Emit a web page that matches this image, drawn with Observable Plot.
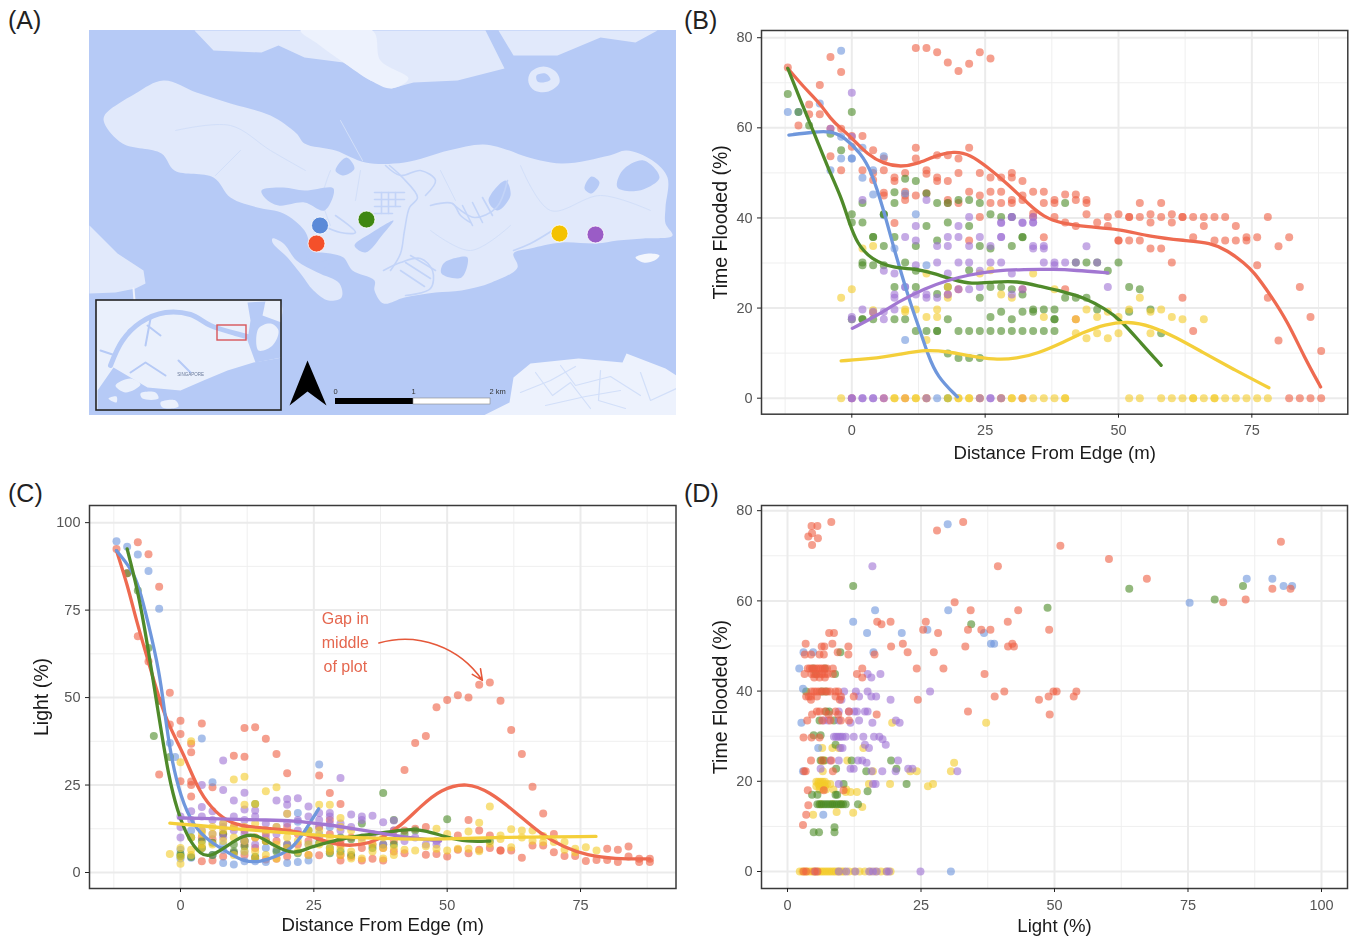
<!DOCTYPE html>
<html><head><meta charset="utf-8">
<script src="https://cdn.jsdelivr.net/npm/d3@7"></script>
<script src="https://cdn.jsdelivr.net/npm/@observablehq/plot@0.6"></script>
<style>
html,body{margin:0;padding:0;background:#fff}
#page{position:relative;width:1354px;height:936px;overflow:hidden;font-family:"Liberation Sans",Arial,sans-serif}
#page>svg,#page>figure{position:absolute;margin:0;filter:blur(0.35px)}
#page>svg.map{filter:blur(0.7px)}
.tag{position:absolute;font-size:25px;color:#222;line-height:24px}
</style></head><body><div id="page"></div>
<script>
// ---------- palette ----------
const RED="#ee5f42",BLUE="#6c94dc",GREEN="#4b8a26",YELLOW="#f3cb2a",PURPLE="#9f72d4";
const LRED="#ee6a50",LBLUE="#6f97dc",LGREEN="#4f8a2a",LYELLOW="#f4cf3a",LPURPLE="#a277d2";

// ---------- panel B: distance from edge vs time flooded ----------
const bRed=[[-12,73.4],[-4,75.7],[-2,72.4],[-6,69.5],[-8,65.2],[-8,63],[-6,63],[-10,60.5],[-4,59.8],[-2,59.8],[0,58.2],[2,58.2],[0,55.8],[4,55],[-4,53.7],[6,53.2],[-2,50.6],[2,50.6],[6,50.6],[4,50],[4,48.4],[8,49],[8,48.2],[10,50],[10,45.8],[10,45],[6,45.6],[6,45],[10,44],[12,45],[12,55.6],[12,53.2],[14,50.6],[14,49.8],[14,45.5],[16,53.9],[16,49],[16,48.2],[18,53.9],[18,48.2],[18,44],[18,43.3],[20,53.2],[20,50],[20,43.3],[22,55.6],[22,45.8],[24,50],[24,45],[24,40.2],[26,49],[26,45.8],[26,43.3],[28,49],[28,45.8],[28,43.3],[30,50],[30,49],[30,44],[30,43.3],[32,48.2],[32,45],[32,44],[34,45.8],[34,41],[34,40.2],[36,43.3],[8,38.9],[22,35],
[12,77.7],[14,77.7],[16,76.8],[18,74.5],[20,72.6],[22,74.2],[24,76.8],[26,75.4],
[36,45.8],[38,44],[38,43.3],[40,45.2],[42,45.2],[42,44],[44,44],[44,43.3],[38,40.2],[44,40.8],[40,39],[42,38.2],[46,39],[48,40.2],[48,38.2],[50,40.8],[52,40.2],[52,40.2],[54,43.3],[58,43.3],[54,40.2],[56,40.8],[56,39],[58,40.2],[60,40.8],[60,39],[62,40.2],[62,40.2],[64,40.2],[66,40.2],[66,38.2],[68,40.2],[70,40.2],[72,38.2],[78,40.2],[50,35],[50,35],[52,35],[54,35],[56,33.2],[58,33.2],[64,35.7],[68,35],[70,35],[72,35],[74,35.7],[74,35],[76,35.7],[80,33.7],[82,35.7],[36,35.7],
[60,30.1],[62,22.3],[64,14.9],[76,29.5],[78,22.3],[80,12.8],[84,24.7],[86,18],[88,10.5],[82,0],[84,0],[86,0],[88,0],[40,24.2],[42,17.5],[18,23],[32,24.2],[4,19],[20,24.2],[24,0],[28,0],[32,0],[14,0],[10,0],[0,0],[6,0]];
const bBlue=[[-2,77.1],[-12,63.5],[-10,63.5],[-6,65.4],[-2,58],[-2,53.2],[0,53.2],[-4,50.6],[2,55.6],[2,48.9],[4,50.6],[4,45.2],[6,53.7],[6,40.6],[10,45.4],[12,40.8],[8,33.2],[14,29.5],[10,12.9],[10,24.7],[16,0],[0,53.2]];
const bGreen=[[-12,67.5],[-10,63.5],[0,63.5],[-8,60.5],[-4,58.7],[-2,55],[0,40.8],[0,39],[2,39],[2,43.3],[6,40.8],[6,40.8],[8,45.7],[8,43.3],[10,48.7],[12,48.2],[14,45.4],[16,43.3],[18,43.3],[20,44],[22,44],[24,43.3],[26,40.8],[28,40.2],[30,40.2],[18,39],[14,38.2],[22,38.2],[4,35.8],[4,35.8],[8,35.8],[16,35],[32,35.8],[6,33.8],[12,33.8],[24,33.8],[26,33.2],[30,33.8],[2,30.1],[2,29.5],[4,29.5],[6,29.5],[10,30.1],[12,28.3],[22,28.4],[8,24.7],[12,24.7],[16,23.1],[18,24.7],[24,22.3],[26,24.7],[28,24.7],[30,24.2],[32,23],[2,17.5],[2,17.5],[4,17.5],[8,17.5],[10,17.5],[18,17.5],[26,18],[28,19.2],[30,17.5],[32,19.2],[34,19.7],[34,19.2],[36,19.7],[38,19.7],[38,17.5],[0,17.5],[12,14.9],[14,14.9],[16,14.9],[16,14.9],[20,14.9],[22,14.9],[24,14.9],[26,14.9],[28,14.9],[30,14.9],[32,14.9],[34,14.9],[36,14.9],[38,14.9],[18,9.9],[20,8.9],[22,8.9],[24,8.9],[40,43.3],[32,35.7],[40,22.3],[42,22.3],[44,22.3],[38,17.5],[46,19.7],[48,28.3],[50,30.1],[52,24.7],[54,24.2],[52,19.2],[56,19.7],[58,14.4],[44,30.1],[42,30.1],[46,30.1],[18,0]];
const bPurple=[[0,67.8],[-4,59.8],[0,58],[2,44],[14,44],[22,40.2],[28,39],[30,40.2],[30,40.2],[32,39],[34,40.2],[34,39],[34,39],[12,38.2],[20,38.2],[28,38.9],[32,38.9],[10,35.8],[12,35],[18,35.8],[20,35.8],[24,35.8],[28,35.8],[28,35.8],[16,33.8],[18,33.8],[22,33.8],[26,33.8],[34,33.8],[34,33.2],[36,33.8],[36,33.2],[44,33.7],[12,29.5],[16,30.1],[20,30.1],[22,30.1],[26,30.1],[28,30.1],[36,30.1],[38,30.1],[38,29.5],[40,30.1],[42,30.1],[46,30.1],[6,28.3],[8,27.7],[18,27.7],[24,28.3],[30,27.7],[10,24.7],[8,23],[8,22.3],[12,23],[14,23],[14,22.3],[16,22.3],[18,23],[20,24.2],[22,24.2],[24,24.7],[30,23],[32,24.2],[2,19.7],[6,19.2],[8,19.7],[4,19.2],[0,18],[6,17.5],[0,17.5],[48,24.7],[0,0],[2,0],[4,0],[6,0],[0,0],[2,0],[4,0],[14,0],[26,0],[26,0],[28,0],[24,0]];
const bYellow=[[2,33.2],[4,33.8],[26,28.4],[34,27.7],[14,27.7],[24,27.7],[0,24.2],[-2,22.3],[18,24.7],[18,22.3],[28,23],[30,22.3],[10,19.7],[10,19.2],[12,19.7],[16,19.7],[16,18],[14,18],[4,19.5],[14,12.9],[36,18],[38,24.2],[44,19.7],[46,18],[48,19.2],[50,18],[52,19.7],[54,22.3],[56,19.2],[58,19.7],[60,18],[62,17.5],[66,17.5],[42,14.4],[42,17.5],[44,13.3],[46,14.4],[48,13.3],[50,14.4],[56,14.4],[-2,0],[8,0],[8,0],[10,0],[12,0],[12,0],[14,0],[18,0],[20,0],[20,0],[22,0],[22,0],[24,0],[28,0],[30,0],[30,0],[32,0],[34,0],[36,0],[38,0],[40,0],[40,0],[52,0],[54,0],[58,0],[60,0],[62,0],[64,0],[64,0],[66,0],[68,0],[68,0],[70,0],[72,0],[74,0],[76,0],[78,0]];
const bLineRed=[[-12,73.2],[-12,73.2],[-9,69],[-6,65.5],[-4,62],[-2,59.8],[0,57.8],[3,54],[6,52],[9.2,51.3],[12.3,52],[15.4,53.7],[19.2,54.9],[22.3,54],[25.4,51.3],[29.2,47.6],[33,43.2],[36,40.2],[39.2,38.8],[44.2,38],[50,37.6],[56,35.8],[62.3,35],[67.3,34.5],[70.4,32.8],[73.6,30],[75.4,28],[78.5,22.9],[81.7,17],[84.8,9.2],[87.9,2.5],[87.9,2.5]];
const bLineBlue=[[-11.8,58.4],[-11.8,58.4],[-7,59.1],[-4,59.3],[-1.4,58],[1.7,54.3],[3.6,50.6],[6,41.7],[7.9,33.2],[9.5,26.9],[11,21],[13,14.3],[14.2,9.9],[16,4.7],[19.8,0.3],[19.8,0.3]];
const bLineGreen=[[-12,73.2],[-12,73.2],[-9.6,66],[-7,58.7],[-4.3,50.6],[-2,44.7],[-0.5,39],[1,34.3],[3.6,30.8],[8,28.8],[11.7,28.8],[15.4,27.7],[19.2,26.2],[22.3,25.3],[26.7,25.8],[31,26],[35,24.9],[39.8,23.6],[43.6,22.3],[47.4,19.9],[50.5,17.3],[54.3,12.1],[58,7.3],[58,7.3]];
const bLinePurple=[[0.1,15.5],[0.1,15.5],[4.8,18.4],[9.2,21.7],[13.6,24.3],[18,26.2],[21.7,27.3],[26.7,28.3],[32.3,28.6],[38,28.6],[41.8,28.4],[48,27.8],[48,27.8]];
const bLineYellow=[[-2,8.3],[-2,8.3],[3.6,8.7],[9.2,9.8],[14.2,10.8],[18,10.3],[21.7,9.5],[26.7,8.5],[31,8.8],[34.8,9.9],[39.8,12.5],[43.6,14.7],[47.4,16.4],[51.8,17.1],[56.2,16],[60.6,13.6],[65.6,10.3],[71.9,6.2],[78.2,2.3],[78.2,2.3]];

// ---------- panel C: distance from edge vs light ----------
const cRed=[[-12,92.5],[-8,94.4],[-6,91],[-4,81.7],[-10,85.5],[-8,67.5],[-6,60.3],[-4,49.1],[-2,51.4],[0,43.4],[4,42.6],[-2,42.3],[0,39.6],[2,34.4],[2,36.8],[-4,28],[0,26.1],[2,26],[2,25],[6,24.4],[2,21.7],[10,33.4],[12,33.1],[12,41.3],[14,41.5],[16,38.2],[18,33.9],[20,28.4],[26,27.7],[28,22.7],[30,19.6],[42,29.3],[44,37],[46,39],[48,47.2],[50,49.3],[52,50.7],[54,50],[56,53.7],[58,54.3],[60,49.1],[62,40.7],[64,33.9],[66,24.5],[68,16.9],[70,11],[54,15],[56,12],[52,10.6],[58,10.6],[60,6.3],[60,6.3],[62,6.3],[64,4.2],[66,7.7],[68,7.7],[70,5.8],[72,4.7],[74,4.7],[76,3.3],[78,3.6],[80,6.8],[80,3.6],[82,6.5],[82,3],[84,7.4],[84,4.6],[86,3.9],[86,3],[88,3.9],[88,3],[42,5.5],[46,5.1],[48,5.3],[50,4.6],[52,6.5],[54,5.5],[56,6.5],[58,7],[46,13],[44,12.5],[42,12],[4,3.2],[4,10],[6,3.4],[6,9.5],[8,4.6],[8,11],[10,5.5],[10,13],[12,5],[12,8],[12,12],[14,4],[14,10],[14,7],[16,3.7],[16,9],[16,11],[18,3.9],[18,9],[20,4.6],[20,7],[20,13],[22,8],[22,11],[24,5],[24,9],[26,4.9],[26,10],[26,13],[28,6],[28,11],[28,15],[30,3.4],[30,5],[30,8],[30,9],[32,4.5],[32,10],[34,3.4],[34,7],[36,3.9],[36,8],[38,3.4],[38,7],[40,6],[40,9],[40,12]];
const cBlue=[[-12,94.7],[-10,93.1],[-8,90.9],[-6,86.2],[-4,75.4],[4,38.3],[6,25.8],[26,30.9],[8,2.7],[10,2.3],[12,3.2],[14,3.2],[16,3],[20,2.7],[22,3],[24,3.4],[0,4],[0,6.5],[2,4.2],[2,12],[4,7],[6,5],[8,6.5],[8,8],[10,5.6],[12,9],[12,6],[16,7],[18,6.5],[22,14.5],[22,17],[24,8],[26,11],[28,13],[-2,37],[-1,33]];
const cGreen=[[-10,85.5],[-8,80.6],[-6,64.2],[-4,49.1],[-5,39],[-2,33],[38,22.7],[14,19.6],[0,4.7],[0,5.3],[2,4.4],[2,10],[4,7],[4,9],[6,8.5],[6,5],[8,11],[10,8],[10,6],[12,7.5],[12,9],[14,4.5],[16,9],[18,6],[20,8],[22,5.5],[24,12],[26,8.5],[28,5.5],[28,7],[30,6],[30,10],[32,9.5],[32,5],[34,14],[36,7],[38,8],[40,8],[40,15],[42,11],[50,15.2],[44,12],[58,9]];
const cPurple=[[8,32],[4,25],[8,23.6],[12,22.8],[10,20.6],[18,20.6],[20,21],[20,19.4],[22,21.2],[24,18.9],[30,27],[4,18.7],[12,18],[14,17.7],[32,16.6],[34,16],[36,16.2],[38,14.4],[40,14.9],[0,13],[0,16],[0,10],[2,15],[2,17.5],[4,12],[4,16],[6,11],[6,15],[6,17.5],[8,14],[8,13],[8,10],[10,12],[10,16],[12,11],[12,9],[12,15],[14,8],[14,16],[16,14],[16,12],[16,10],[18,13],[18,11],[20,14],[20,16.8],[20,8],[22,12],[22,15],[24,16],[26,13],[26,17],[26,15],[28,16],[28,17],[28,14],[30,14],[30,12],[32,13],[34,15],[34,10],[36,11],[38,8],[40,12],[42,9],[44,10],[46,8],[48,9],[48,8]];
const cYellow=[[0,31.5],[2,37.5],[10,26.6],[12,27.4],[16,23.2],[18,24.4],[12,19.4],[14,19.6],[20,16.8],[26,19.4],[28,19.4],[30,15.6],[-2,5.3],[0,2.5],[0,4.5],[0,7],[2,5],[2,6.5],[2,10],[4,7],[4,8],[4,11],[4,12],[6,8],[6,11],[6,13],[8,9],[8,12],[8,14],[10,5],[10,10],[10,13],[12,6],[12,9],[12,13],[14,4],[14,6],[14,10],[14,14],[16,5],[16,9],[16,12],[18,4],[18,8],[18,13],[20,7],[20,10],[22,6],[22,9],[24,5],[24,8],[24,12],[26,8],[26,12],[28,6],[28,7],[28,10],[30,5],[30,7],[30,13],[32,4],[32,6],[32,12],[34,4],[34,9],[36,6],[36,8],[38,4],[38,7],[38,10],[40,5],[40,7],[42,6.5],[44,6.3],[46,7.5],[48,6.8],[48,12.5],[50,6.3],[50,11],[52,6.8],[54,6.8],[54,11.7],[56,6.1],[56,14.2],[58,8.2],[58,18.9],[60,10.6],[60,9.6],[62,7.2],[62,12.4],[64,10],[64,12],[66,9.1],[66,12],[68,8.7],[68,10.4],[70,8.7],[72,8.7],[72,6.5],[74,6.8],[74,5.8],[76,7.2],[78,6.3]];
const cLineRed=[[-12,92],[-12,92],[-10,82.5],[-8.1,71],[-6.25,61.5],[-4,49.6],[-2.2,42],[0.6,33.9],[3.1,24.4],[5.6,18.7],[8.8,14.4],[12.5,13],[17.5,12.5],[21.3,12],[25,10.1],[29.4,7.7],[33.75,7.7],[37.5,9.6],[41.25,13.2],[45,18.9],[48.75,23.8],[53.75,25.8],[58,23],[62.5,17.7],[67.5,11],[71.9,7.2],[76.3,4.9],[81.25,3.9],[88,3.9],[88,3.9]];
const cLineBlue=[[-12,92],[-12,92],[-9.4,87.2],[-7.8,82],[-6,71],[-4,57.7],[-3,46.3],[-1.9,33.9],[0,21.5],[2.5,13],[5.6,8.7],[8.8,5.8],[11.9,3],[15,3],[18.1,4.6],[21.3,7.2],[23.8,13],[25.9,18.2],[25.9,18.2]];
const cLineGreen=[[-10,92.5],[-10,92.5],[-8,80.6],[-6.3,66.3],[-4,44],[-2.2,27.2],[-0.6,17.7],[1.3,10],[3.8,4.8],[5.9,4.6],[8.8,7.7],[11.9,10.8],[14.4,10.8],[17.5,7.7],[21.3,5],[24.4,7.4],[28,8.7],[31.9,10.3],[36.9,11],[41.9,12.4],[45.6,12.2],[49.4,10.3],[53.8,8.7],[58,9],[58,9]];
const cLinePurple=[[-0.3,15.6],[-0.3,15.6],[3.75,15.5],[8.75,15.3],[15,15],[21.25,14.9],[27.5,13.7],[33.75,12.2],[40,10.6],[45,9.6],[48.75,9],[48.75,9]];
const cLineYellow=[[-2,14.1],[-2,14.1],[3.75,13.4],[10,12.5],[16.25,11.8],[22.5,11],[28.75,10.3],[35,9.9],[41.25,9.6],[48.75,9.5],[60,10.1],[77.9,10.3],[77.9,10.3]];

// ---------- panel D: light vs time flooded (rows of [flooded,[light...]]) ----------
const dRedRows=[[77.5,[8.2,32.9]],[76.6,[4.5,5.6]],[75.6,[28]],[75,[4.6]],[74.3,[3.9]],[73.9,[5.7]],[73.1,[92.4]],[72.4,[4.6]],[72.2,[51.1]],[69.3,[60.2]],[67.7,[39.4]],[64.9,[67.3]],[62.7,[90.8,94.2]],[60.3,[85.8]],[59.7,[31.3,81.6]],[57.9,[34.3,43.2]],[55.4,[16.8,19.3,25.9,41.25]],[54.8,[17.6]],[53.6,[25.4,33.8,36.3,38,49]],[52.9,[7.8,8.7,28.2]],[50.5,[3.4,8.4,21.6,42.1]],[49.9,[6.4,6.9,11.4,19.4,33.3,41.3,42.4]],[48.6,[9.4,22.5,27.4]],[48.1,[3.25,4.4,6,6.8,11.4,16.3]],[45,[3.8,4.2,4.6,5,5.4,5.8,6.2,6.6,7,7.4,8.5,14,24.2,29.2]],[43.8,[3.2,4.5,5,5.5,6,6.5,7,7.5,8.5,13,36.9]],[43,[5,6,7,14]],[39.9,[4.5,5,5.5,6,6.5,7,7.5,8,9,9.5,40.6,49.8,50.4,54.1]],[38.8,[3.5,4,4.4,5.5,9,10,12.4,38.8,48.9,53.6]],[38.1,[24.4,47.1,4.4,9.8]],[35.5,[5.5,6,7,9,11.5,33.8]],[34.8,[4.6,7.7,9.5,16.7,49.1]],[33.5,[3.7,6.5,8,10,11.5]],[29.7,[3,4.5,6]],[24.6,[4.4,6.5,8.2]],[22.2,[3.4,8.5,3.1]],[18,[3.8,6.8,10.5]],[14.7,[3.9]],[12.6,[3.5]],[10.3,[2.9]],[0,[3,3.5,5,5.6]]];
const dBlueRows=[[77,[30]],[64.9,[86,90.8]],[63.3,[92.9,94.5]],[59.6,[75.3]],[57.9,[16.4,30.1]],[55.4,[12.3]],[53.6,[26.2]],[52.9,[14.9,21.4,36.8]],[50.5,[38.1,38.7]],[48.6,[3,4.8,16.1]],[45,[2.2]],[40.5,[2.9]],[33,[2.6]],[27.4,[5.75]],[22.2,[2.9]],[12.6,[6.7]],[0,[30.6]]];
const dGreenRows=[[63.3,[12.3,85.3]],[62.7,[64]],[60.3,[80]],[58.5,[48.7]],[54.8,[34.4]],[48.6,[9.9]],[45,[7,4.8]],[43.8,[5.3,8.9]],[39.9,[6.4,7.2,3.5]],[35.5,[7.2,7.8]],[33.5,[6,8.7]],[30.2,[4.9,6.2]],[28.1,[9]],[24.6,[6.2,6.8,12,19.4]],[22.8,[9.1,20.4]],[22.2,[14.75]],[19.4,[22.3,10.5]],[17.8,[15]],[17,[4.6,5.6,9.3,9]],[14.9,[5.6,6,6.4,6.8,7.2,7.6,8,8.4,8.8,9.2,9.6,10,10.4,10.9,13.2]],[9.8,[8.8]],[8.7,[4.9,5.9,8.8]]];
const dPurpleRows=[[67.7,[15.9]],[43.8,[15,17.4]],[43,[15.7]],[39.9,[10.6,12.8,15,26.7]],[38.8,[13.4,15.7,16.6]],[38.1,[10.1,19.3]],[35.5,[9.6,11.5,12.5,13,14.5,15]],[33.5,[6.8,7.6,9.6,13.4,20.3]],[33,[11.8,15.9,21]],[29.9,[8.7,9.1,9.5,9.9,10.3,10.9,12.4,14.2,16.2,17.2]],[29.3,[17.8]],[28.1,[14.5,18.4]],[27.4,[9.9,10.3,15.25]],[24.6,[8,9.6,13.2,14,20.7]],[24.1,[14.8]],[22.8,[6.2,11.8,12.4,22.6,23.4]],[22.2,[15.75,17.75,20.25,31.8]],[19.4,[9.6,16,16.5]],[0,[5.25,9.6,11,12.7,15.3,16,16.7,18.6,19,24.9]]];
const dYellowRows=[[33,[37.2,19.6]],[27.4,[6.5,8.4,14.2]],[27.4,[9.6]],[24.6,[6.4,7,11.2]],[24.1,[31.2]],[22.2,[6.6,16,23,24.2,30.6]],[19.9,[5.4,5.8,6.2,6.6,7]],[19.4,[5.8,6.2,6.8,7.4,8,15.25,19.2]],[18.9,[5.4,6,6.6,7,26.3]],[19.4,[27.25]],[18.2,[6,6.6,7.2,8.6,11]],[17.6,[10.9,11.8,13]],[14.9,[6.2,8.4,10]],[14.3,[14]],[13.2,[9.2]],[13,[12.3]],[12.6,[4.8]],[0,[2.3,2.8,3.3,3.8,4.3,4.8,5.3,5.8,6.2,6.6,7,7.4,7.8,8.2,8.6,9,9.4,9.8,10.2,10.6,11.5,12.5,13.5,14.5,15.5,16.5,17.5,18.5,19.3]]];
const flat=rows=>rows.flatMap(([y,xs])=>xs.map(x=>[x,y]));

// ---------- panel A: map outlines ----------
const WATER="#b6caf6",LAND="#e1e9fb",LAND2="#edf2fd",ROAD="#d2dff9";
const mainIsland=[[104,115],[135,93],[163,80],[196,92],[230,103],[270,115],[296,133],[304,143],[335,150],[365,162],[404,162],[448,150],[483,144],[509,150],[522,155],[561,163],[609,155],[626,150],[652,160],[667,177],[665,207],[665,223],[672,235],[643,238],[617,240],[596,243],[561,242],[530,248],[513,253],[517,267],[491,282],[461,290],[435,292],[404,297],[383,303],[374,290],[374,280],[352,270],[343,257],[330,253],[313,250],[304,230],[283,213],[257,207],[230,197],[213,177],[174,170],[161,153],[122,143],[104,123]];
const southIslet=[[272,238],[283,243],[296,260],[317,272],[339,283],[341,297],[328,300],[313,290],[300,273],[287,257],[272,242]];
const northLand=[[194,30],[213,50],[261,52],[278,45],[304,57],[343,62],[370,80],[391,88],[413,82],[457,80],[504,68],[485,30]];
const northLand2=[[498,30],[513,55],[557,55],[600,37],[635,42],[657,30]];
const northPatch=[[300,30],[318,44],[343,62],[370,80],[391,88],[408,78],[380,60],[372,30]];
const ringIsle=[[530,72],[543,66],[556,72],[559,82],[548,91],[534,90],[528,82]];
const ringLake=[[536,75],[545,73],[550,79],[543,82],[537,81]];
const westLand=[[89,225],[117,253],[143,270],[145,283],[135,288],[115,292],[89,293]];
const bridge=[[133,288],[134,300]];
const brLand=[[513,377],[530,363],[578,358],[622,362],[626,353],[665,368],[676,375],[676,415],[483,415],[509,402]];
const brRoads=[[[535,372],[552,395],[570,382],[590,408]],[[560,365],[575,385],[610,376],[640,395]],[[600,370],[598,400],[625,408]],[[640,372],[650,400],[676,388]],[[520,392],[550,380],[575,366]],[[545,405],[585,396],[620,390]]];
const eastIslet=[[635,257],[648,253],[659,255],[654,260],[643,262]];
const lakes=[
 [[261,190],[283,187],[304,190],[333,188],[324,210],[304,202],[278,205],[265,198]],
 [[346,157],[354,168],[343,175],[335,170]],
 [[393,220],[383,233],[365,252],[354,245],[370,233]],
 [[643,160],[659,177],[639,190],[617,187],[622,170]],
 [[591,176],[599,182],[591,193],[584,188]],
 [[457,257],[467,257],[461,277],[441,273],[443,263]],
 [[488,200],[505,180],[510,195],[497,210]],
 [[306,255],[311,262],[330,260],[320,270],[308,265]]];
const canals=[
 [[389,165],[402,177],[417,197],[409,207],[404,230],[400,253],[390,270]],
 [[452,203],[474,217],[496,207],[507,180]],
 [[383,270],[400,262],[420,258],[432,270],[430,288],[405,295]],
 [[513,250],[530,243],[552,230]],
 [[430,205],[452,203],[460,215],[470,222]],
 [[385,165],[400,175],[420,170],[435,180],[425,195]],
 [[335,215],[355,232],[340,232],[322,225]],
 [[374,192],[404,192]],[[374,199],[404,199]],[[374,206],[400,206]],[[374,213],[392,213]],
 [[381,192],[381,213]],[[388,192],[388,213]],[[395,192],[395,206]],
 [[410,255],[435,270]],[[405,262],[430,278]],[[400,270],[424,286]],
 [[462,205],[472,225]],[[472,202],[482,222]],[[482,197],[492,215]]];
const roads=[[[340,120],[362,160]],[[330,170],[322,198],[330,225]],[[175,130],[230,125],[270,150],[305,170]],[[215,175],[240,150]],[[440,170],[455,200]],[[520,165],[550,210],[600,195],[650,210]],[[430,230],[470,250],[510,225]],[[360,170],[355,200]]];
const INSET_L=96,INSET_R=281,INSET_T=300,INSET_B=410;
const insetSea=[[282,357],[253,362],[227,370],[203,380],[180,390],[147,387],[113,367],[97,390],[97,409],[281,409]];
const insetEast=[[247,302],[265,301],[262,315],[281,322],[281,357],[255,362],[247,340],[250,320]];
const insetEastIsle=[[258,328],[270,323],[278,330],[272,345],[258,350]];
const insetNE=[[265,302],[280,302],[280,318],[268,315]];
const insetStrait=[[110,365],[122,340],[140,322],[165,312],[190,314],[210,325],[235,333],[250,337]];
const insetCreeks=[[[140,322],[128,330]],[[147,325],[160,335]],[[150,318],[145,345]],[[115,355],[100,350]],[[130,372],[145,362],[165,375]],[[178,360],[190,372]]];
const insetIsles=[[[115,385],[130,378],[140,384],[125,392]],[[140,393],[155,392],[158,398],[142,398]],[[160,402],[175,400],[178,406],[162,407]],[[108,398],[116,396],[116,402]]];
const sites=[{x:319.5,y:225,c:"#5b8ad8"},{x:316,y:243,c:"#f4502a"},{x:366,y:219,c:"#3f8712"},{x:559,y:233,c:"#f4c200"},{x:595,y:234,c:"#9a5cc6"}];
const northArrow=[[307,360],[289,405],[307,391],[326,405]];
const scaleTicks=[{x:335,t:"0"},{x:413,t:"1"},{x:497,t:"2 km"}];

const page=document.getElementById("page");
const xy={x:d=>d[0],y:d=>d[1]};
function place(svg,l,t){svg.style.left=l+"px";svg.style.top=t+"px";page.appendChild(svg);}
function tag(t,l,tp){const d=document.createElement("div");d.className="tag";d.textContent=t;d.style.left=l+"px";d.style.top=tp+"px";page.appendChild(d);}

// ---------- map ----------
const poly=(pts,fill,curve="catmull-rom-closed")=>Plot.line(pts,{...xy,fill,stroke:"none",curve});
const mapPlot=Plot.plot({width:587,height:385,marginLeft:0,marginRight:0,marginTop:0,marginBottom:0,className:"map",
 style:{background:WATER,overflow:"hidden",fontFamily:"Liberation Sans"},
 x:{domain:[89,676],axis:null},y:{domain:[415,30],axis:null},
 marks:[
  poly(northLand,LAND,"linear-closed"),poly(northPatch,LAND2),poly(northLand2,LAND,"linear-closed"),poly(westLand,LAND,"linear-closed"),poly(brLand,LAND2,"linear-closed"),
  Plot.line(bridge,{...xy,stroke:"#eef2fd",strokeWidth:2}),
  ...brRoads.map(c=>Plot.line(c,{...xy,stroke:ROAD,strokeWidth:1.2})),
  poly(mainIsland,LAND),poly(southIslet,LAND),poly(ringIsle,LAND),poly(ringLake,WATER),poly(eastIslet,"#f3f6fd"),
  ...roads.map(c=>Plot.line(c,{...xy,stroke:ROAD,strokeWidth:1,curve:"catmull-rom"})),
  ...lakes.map(l=>poly(l,WATER)),
  ...canals.map(c=>Plot.line(c,{...xy,stroke:"#c3d4f8",strokeWidth:1.6,curve:"catmull-rom"})),
  Plot.dot(sites,{x:"x",y:"y",r:8.5,fill:"c",stroke:"#fff",strokeWidth:0.8}),
  Plot.rect([{}],{x1:INSET_L,x2:INSET_R,y1:INSET_T,y2:INSET_B,fill:"#eaf0fc"}),
  poly(insetSea,WATER,"linear-closed"),poly(insetEast,WATER,"linear-closed"),poly(insetEastIsle,"#eaf0fc"),poly(insetNE,"#eaf0fc"),
  Plot.line(insetStrait,{...xy,stroke:WATER,strokeWidth:5,curve:"catmull-rom"}),
  ...insetCreeks.map(c=>Plot.line(c,{...xy,stroke:WATER,strokeWidth:2})),
  ...insetIsles.map(c=>poly(c,"#eaf0fc")),
  Plot.rect([{}],{x1:217,x2:246,y1:325,y2:340,fill:"none",stroke:"#d8555a",strokeWidth:1.4}),
  Plot.rect([{}],{x1:INSET_L,x2:INSET_R,y1:INSET_T,y2:INSET_B,fill:"none",stroke:"#222",strokeWidth:1.6}),
  Plot.text(["SINGAPORE"],{x:190,y:374,fontSize:4.5,fill:"#6a7a9a"}),
  Plot.line(northArrow,{...xy,fill:"#000",stroke:"none",curve:"linear-closed"}),
  Plot.rect([{}],{x1:335,x2:413,y1:398,y2:404,fill:"#000"}),
  Plot.rect([{}],{x1:413,x2:490,y1:398,y2:404,fill:"#fff",stroke:"#888",strokeWidth:.6}),
  Plot.text(scaleTicks,{x:"x",y:391,text:"t",fontSize:7.5,fill:"#333"})
 ]});
place(mapPlot,89,30);

// ---------- scatter panels ----------
function panel(o){
 const lay=o.frame; // pixel box of the panel frame
 const W=lay.r-lay.l+o.ml+10,H=lay.b-lay.t+12+54;
 const grid=[
  Plot.ruleX(o.minorX,{stroke:"#efefef",strokeWidth:1}),
  Plot.ruleY(o.minorY,{stroke:"#efefef",strokeWidth:1}),
  Plot.ruleX(o.majorX,{stroke:"#ebebeb",strokeWidth:2}),
  Plot.ruleY(o.majorY,{stroke:"#ebebeb",strokeWidth:2})];
 const dots=o.series.map(s=>Plot.dot(s.pts,{...xy,r:4,fill:s.c,fillOpacity:.6,stroke:"none"}));
 const lines=(o.lines||[]).map(s=>Plot.line(s.pts,{...xy,stroke:s.c,strokeWidth:3.3,curve:"basis",strokeLinejoin:"round"}));
 const svg=Plot.plot({width:W,height:H,marginLeft:o.ml,marginRight:10,marginTop:12,marginBottom:54,
  style:{background:"transparent",overflow:"visible",fontFamily:"Liberation Sans"},
  x:{domain:o.xd,axis:null},y:{domain:o.yd,axis:null},
  marks:[...grid,...dots,...lines,...(o.extra||[]),
   Plot.frame({stroke:"#3a3a3a",strokeWidth:1.5}),
   Plot.axisX(o.majorX,{anchor:"bottom",tickSize:4,tickPadding:7,fontSize:14.5,stroke:"#222",fill:"#555",label:null}),
   Plot.axisY(o.majorY,{anchor:"left",tickSize:4,tickPadding:5,fontSize:14.5,stroke:"#222",fill:"#555",label:null}),
   Plot.text([o.xlab],{frameAnchor:"bottom",textAnchor:"middle",lineAnchor:"middle",dy:o.xdy,fontSize:18.6,fill:"#1a1a1a"}),
   Plot.text([o.ylab],{frameAnchor:"left",textAnchor:"middle",lineAnchor:"middle",rotate:-90,dx:o.ydx,fontSize:19.5,fill:"#1a1a1a"})
  ]});
 place(svg,lay.l-o.ml,lay.t-12);
}
const X_TITLE="Distance From Edge (m)",Y_FLOOD="Time Flooded (%)",Y_LIGHT="Light (%)";
panel({frame:{l:760.7,r:1347,t:30.3,b:414},ml:68,xd:[-16.93,92.99],yd:[-3.55,81.6],
 majorX:[0,25,50,75],minorX:[-12.5,12.5,37.5,62.5,87.5],majorY:[0,20,40,60,80],minorY:[10,30,50,70],
 series:[{pts:bRed,c:RED},{pts:bBlue,c:BLUE},{pts:bGreen,c:GREEN},{pts:bYellow,c:YELLOW},{pts:bPurple,c:PURPLE}],
 lines:[{pts:bLineRed,c:LRED},{pts:bLineBlue,c:LBLUE},{pts:bLineGreen,c:LGREEN},{pts:bLineYellow,c:LYELLOW},{pts:bLinePurple,c:LPURPLE}],
 xlab:X_TITLE,ylab:Y_FLOOD,xdy:39,ydx:-40.5});
const noteLines=[{x:30.9,y:72.6,t:"Gap in"},{x:30.9,y:65.7,t:"middle"},{x:30.9,y:58.9,t:"of plot"}];
const noteArrow=[{x1:37.2,y1:65.6,x2:56.6,y2:54.9}];
panel({frame:{l:89,r:675.5,t:505,b:888},ml:68,xd:[-17.06,92.9],yd:[-4.57,104.9],
 majorX:[0,25,50,75],minorX:[-12.5,12.5,37.5,62.5,87.5],majorY:[0,25,50,75,100],minorY:[12.5,37.5,62.5,87.5],
 series:[{pts:cRed,c:RED},{pts:cBlue,c:BLUE},{pts:cGreen,c:GREEN},{pts:cPurple,c:PURPLE},{pts:cYellow,c:YELLOW}],
 lines:[{pts:cLineRed,c:LRED},{pts:cLineBlue,c:LBLUE},{pts:cLineGreen,c:LGREEN},{pts:cLinePurple,c:LPURPLE},{pts:cLineYellow,c:LYELLOW}],
 extra:[Plot.text(noteLines,{x:"x",y:"y",text:"t",fontSize:16,fill:"#e5674f"}),
  Plot.arrow(noteArrow,{x1:"x1",y1:"y1",x2:"x2",y2:"y2",bend:36,stroke:"#e5583a",strokeWidth:1.6,headLength:11,headAngle:50})],
 xlab:X_TITLE,ylab:Y_LIGHT,xdy:37,ydx:-48});
panel({frame:{l:761,r:1347,t:505,b:888},ml:68,xd:[-4.87,104.87],yd:[-3.77,81.15],
 majorX:[0,25,50,75,100],minorX:[12.5,37.5,62.5,87.5],majorY:[0,20,40,60,80],minorY:[10,30,50,70],
 series:[{pts:flat(dYellowRows),c:YELLOW},{pts:flat(dGreenRows),c:GREEN},{pts:flat(dPurpleRows),c:PURPLE},{pts:flat(dBlueRows),c:BLUE},{pts:flat(dRedRows),c:RED}],
 xlab:"Light (%)",ylab:Y_FLOOD,xdy:38,ydx:-41});
tag("(A)",8,8);tag("(B)",684,8);tag("(C)",8,481);tag("(D)",684,481);
</script></body></html>
